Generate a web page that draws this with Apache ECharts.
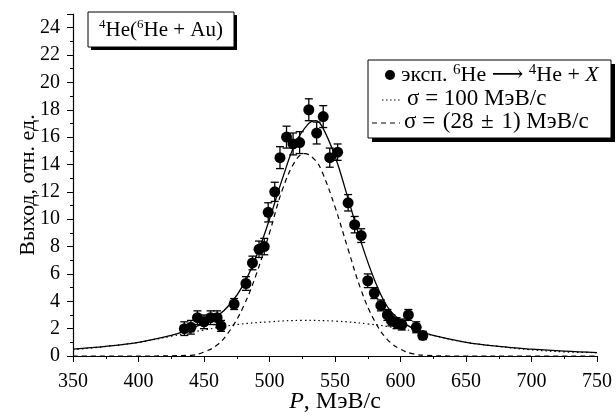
<!DOCTYPE html>
<html>
<head>
    <meta charset="utf-8">
    <title>4He(6He + Au)</title>
    <script src="https://cdn.jsdelivr.net/npm/echarts@6/dist/echarts.min.js"></script>
</head>
<body style="margin:0;background:#fff;">
    <div id="main" style="width: 616px;height:419px;"></div>
    <script type="text/javascript">

    // экспериментальные точки: импульс, выход, ошибка
    var expP   = [435, 440, 445, 450, 455, 460, 463, 473, 482, 487, 492, 496, 499, 504, 508, 513, 518, 523,
                  530, 536, 541, 546, 552, 560, 565, 570, 575, 580, 585, 590, 593, 597, 601, 606, 612, 617];
    var expY   = [2.0, 2.1, 2.8, 2.5, 2.8, 2.8, 2.2, 3.8, 5.3, 6.8, 7.8, 8.0, 10.5, 12.0, 14.5, 16.0, 15.5, 15.6,
                  18.0, 16.3, 17.5, 14.5, 14.9, 11.2, 9.6, 8.8, 5.5, 4.6, 3.7, 3.0, 2.6, 2.4, 2.3, 3.0, 2.1, 1.5];
    var expErr = [0.5, 0.5, 0.5, 0.5, 0.5, 0.5, 0.4, 0.4, 0.5, 0.5, 0.6, 0.6, 0.7, 0.7, 0.8, 0.8, 0.8, 0.8,
                  0.8, 0.8, 0.8, 0.7, 0.6, 0.6, 0.6, 0.5, 0.5, 0.4, 0.4, 0.4, 0.4, 0.4, 0.4, 0.4, 0.4, 0.3];

    // сумма (сплошная линия)
    var sumP = [350, 375, 400, 425, 440, 450, 460, 470, 480, 490, 500, 510, 520, 530, 535, 540, 550,
                560, 570, 580, 590, 600, 610, 625, 650, 675, 700, 725, 750];
    var sumY = [0.5, 0.7, 1.0, 1.5, 2.0, 2.4, 2.9, 3.8, 5.2, 7.3, 10.0, 13.0, 15.6, 17.0, 17.2, 16.8, 14.6,
                11.5, 8.3, 5.6, 3.6, 2.6, 2.0, 1.5, 1.0, 0.7, 0.5, 0.35, 0.25];

    // sigma = 100 (пунктир)
    var wideP = [350, 375, 400, 425, 450, 475, 500, 525, 550, 575, 600, 625, 650, 675, 700, 725, 750];
    var wideY = [0.45, 0.7, 1.0, 1.45, 1.9, 2.3, 2.5, 2.6, 2.55, 2.35, 2.0, 1.5, 1.0, 0.7, 0.45, 0.3, 0.25];

    // sigma = 28 (штрих)
    var narrowP = [350, 400, 440, 450, 460, 470, 480, 490, 500, 510, 520, 527, 535, 540, 550,
                   560, 570, 580, 590, 600, 610, 620, 640, 700, 750];
    var narrowY = [0, 0, 0.05, 0.3, 0.8, 1.9, 3.6, 6.0, 9.0, 12.2, 14.3, 14.8, 14.3, 13.5, 10.9,
                   7.8, 4.8, 2.6, 1.2, 0.5, 0.15, 0.05, 0, 0, 0];

    function pairs(xs, ys) {
        var out = [];
        for (var i = 0; i < xs.length; i++) out.push([xs[i], ys[i]]);
        return out;
    }
    var errData = [];
    for (var i = 0; i < expP.length; i++) {
        errData.push([expP[i], expY[i] - expErr[i], expY[i] + expErr[i]]);
    }

    var FONT = '"Liberation Serif", "DejaVu Serif", serif';
    function st(size, extra) {
        var s = {fontSize: size, fontFamily: FONT, color: '#000', lineHeight: size + 2};
        for (var k in extra) s[k] = extra[k];
        return s;
    }
    var legendRich = {
        s: st(15, {verticalAlign: 'top', lineHeight: 15}),
        n: st(23),
        m: st(22),
        i: st(22, {fontStyle: 'italic'})
    };
    var SP = '\u2004'; // чуть шире обычного пробела

    var myChart = echarts.init(document.getElementById('main'));

    var option = {
        backgroundColor: '#fff',
        animation: false,
        grid: {left: 73, right: 19, top: 14, bottom: 63, outerBoundsMode: 'none'},
        xAxis: {
            type: 'value',
            min: 350, max: 750, interval: 50,
            name: '{i|P}{n|, МэВ/с}',
            nameLocation: 'middle',
            nameGap: 33,
            nameMoveOverlap: false,
            nameTextStyle: {rich: {i: st(24, {fontStyle: 'italic'}), n: st(24)}},
            axisLine: {lineStyle: {color: '#000', width: 1.2}},
            axisTick: {length: 6, lineStyle: {color: '#000'}},
            minorTick: {show: true, splitNumber: 2, length: 3, lineStyle: {color: '#000'}},
            splitLine: {show: false},
            axisLabel: {color: '#000', fontSize: 20, fontFamily: FONT, margin: 16}
        },
        yAxis: {
            type: 'value',
            min: 0, max: 25, interval: 2,
            name: 'Выход, отн. ед.',
            nameLocation: 'middle',
            nameGap: 34,
            nameMoveOverlap: false,
            nameTextStyle: {color: '#000', fontSize: 22, fontFamily: FONT},
            axisLine: {show: true, lineStyle: {color: '#000', width: 1.2}},
            axisTick: {show: true, length: 6, lineStyle: {color: '#000'}},
            minorTick: {show: true, splitNumber: 2, length: 3, lineStyle: {color: '#000'}},
            splitLine: {show: false},
            axisLabel: {color: '#000', fontSize: 20, fontFamily: FONT, margin: 13}
        },
        series: [
            {
                type: 'line', data: pairs(wideP, wideY), smooth: 0.4, symbol: 'none',
                lineStyle: {color: '#000', width: 1.2, type: [1.5, 3]}, z: 2
            },
            {
                type: 'line', data: pairs(narrowP, narrowY), smooth: 0.4, symbol: 'none',
                lineStyle: {color: '#000', width: 1.2, type: [5, 4]}, z: 2
            },
            {
                type: 'line', data: pairs(sumP, sumY), smooth: 0.4, symbol: 'none',
                lineStyle: {color: '#000', width: 1.3}, z: 3
            },
            {
                type: 'custom',
                data: errData,
                z: 4,
                renderItem: function (params, api) {
                    var lo = api.coord([api.value(0), api.value(1)]);
                    var hi = api.coord([api.value(0), api.value(2)]);
                    var w = 4;
                    var ls = {stroke: '#000', lineWidth: 1.3};
                    return {
                        type: 'group',
                        children: [
                            {type: 'line', shape: {x1: lo[0], y1: lo[1], x2: hi[0], y2: hi[1]}, style: ls},
                            {type: 'line', shape: {x1: lo[0] - w, y1: lo[1], x2: lo[0] + w, y2: lo[1]}, style: ls},
                            {type: 'line', shape: {x1: hi[0] - w, y1: hi[1], x2: hi[0] + w, y2: hi[1]}, style: ls}
                        ]
                    };
                }
            },
            {
                type: 'scatter', data: pairs(expP, expY), symbol: 'circle', symbolSize: 11,
                itemStyle: {color: '#000', opacity: 1}, z: 5
            }
        ],
        graphic: [
            // рамка с названием реакции
            {type: 'rect', shape: {x: 91, y: 15, width: 146, height: 35}, style: {fill: '#000'}, z: 10},
            {type: 'rect', shape: {x: 88, y: 12, width: 146, height: 35}, style: {fill: '#fff', stroke: '#000', lineWidth: 1}, z: 11},
            {
                type: 'text', x: 161, y: 30, z: 12,
                style: {
                    text: '{s|4}{n|He(}{s|6}{n|He + Au)}',
                    align: 'center', verticalAlign: 'middle',
                    rich: {s: st(13, {verticalAlign: 'top', lineHeight: 13}), n: st(21)}
                }
            },
            // легенда
            {type: 'rect', shape: {x: 372, y: 64, width: 243, height: 78}, style: {fill: '#000'}, z: 10},
            {type: 'rect', shape: {x: 368, y: 60, width: 243, height: 78}, style: {fill: '#fff', stroke: '#000', lineWidth: 1}, z: 11},
            {type: 'circle', shape: {cx: 390, cy: 75, r: 5}, style: {fill: '#000'}, z: 12},
            {
                type: 'text', x: 401, y: 75, z: 12,
                style: {
                    text: '{m|эксп. }{s|6}{m|He ⟶ }{s|4}{m|He + }{i|X}',
                    verticalAlign: 'middle',
                    rich: legendRich
                }
            },
            {type: 'line', shape: {x1: 382, y1: 100, x2: 400, y2: 100}, style: {stroke: '#000', lineWidth: 1.2, lineDash: [1.5, 2.5]}, z: 12},
            {
                type: 'text', x: 407, y: 99, z: 12,
                style: {
                    text: '{n|σ = 100 МэВ/с}',
                    verticalAlign: 'middle', rich: legendRich
                }
            },
            {type: 'line', shape: {x1: 372, y1: 123, x2: 400, y2: 123}, style: {stroke: '#000', lineWidth: 1.2, lineDash: [5, 4]}, z: 12},
            {
                type: 'text', x: 404, y: 122, z: 12,
                style: {
                    text: '{n|σ =' + SP + '(28' + SP + '±' + SP + '1) МэВ/с}',
                    verticalAlign: 'middle', rich: legendRich
                }
            }
        ]
    };

    myChart.setOption(option);
    </script>
</body>
</html>
